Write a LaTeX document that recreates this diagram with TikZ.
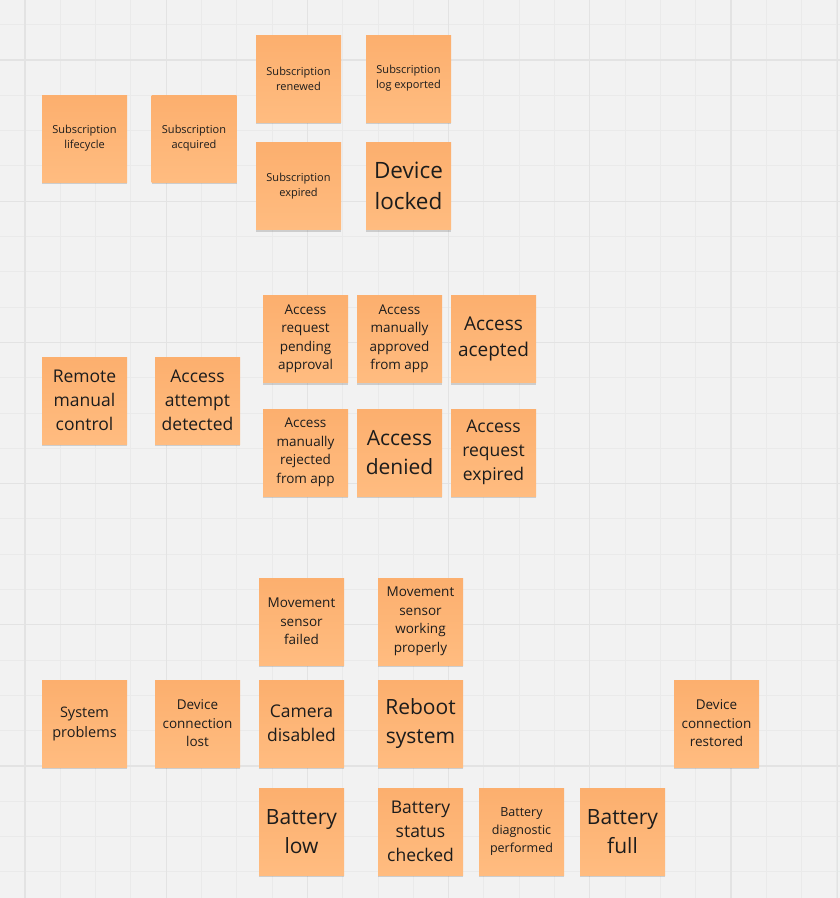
\documentclass[tikz,border=0pt]{standalone}
\usepackage{fontspec}
\setmainfont{Open Sans}
\usetikzlibrary{shadows}
\definecolor{bg}{HTML}{F2F2F2}
\definecolor{gridminor}{HTML}{EAEAEA}
\definecolor{gridmajor}{HTML}{E3E3E3}
\definecolor{stickytop}{HTML}{FCAF6E}
\definecolor{stickybot}{HTML}{FFBC80}
\definecolor{ink}{HTML}{1C1C1C}
\tikzset{
  sticky/.style={rectangle, minimum width=85pt, minimum height=87pt, inner sep=0pt,
    top color=stickytop, bottom color=stickybot, draw=none, text=ink, align=center,
    drop shadow={shadow xshift=0pt, shadow yshift=-2pt, opacity=0.15, fill=black}},
  fsA/.style={font=\fontsize{11}{15}\selectfont},
  fsB/.style={font=\fontsize{13.5}{18.5}\selectfont},
  fsC/.style={font=\fontsize{14.5}{20}\selectfont},
  fsD/.style={font=\fontsize{17.5}{24.2}\selectfont},
  fsE/.style={font=\fontsize{19}{26}\selectfont},
  fsF/.style={font=\fontsize{21}{29}\selectfont},
  fsG/.style={font=\fontsize{22.5}{31}\selectfont},
  fsH/.style={font=\fontsize{12.5}{18}\selectfont},
}
\begin{document}
\begin{tikzpicture}[x=1pt,y=-1pt]
\useasboundingbox (0,0) rectangle (840,898);
\fill[bg] (0,0) rectangle (840,898);
% minor grid
\foreach \i in {-1,...,24} {
  \draw[gridminor, line width=1pt] ({25+35.3*\i},0) -- ({25+35.3*\i},898);
}
\foreach \j in {-2,...,25} {
  \draw[gridminor, line width=1pt] (0,{60+35.3*\j}) -- (840,{60+35.3*\j});
}
% major grid
\foreach \i in {0,...,5} {
  \draw[gridmajor, line width=1.3pt] ({25+141.2*\i},0) -- ({25+141.2*\i},898);
}
\draw[gridmajor, line width=1.3pt] (837.5,0) -- (837.5,898);
\foreach \j in {0,...,6} {
  \draw[gridmajor, line width=1.3pt] (0,{60+141.2*\j}) -- (840,{60+141.2*\j});
}
% subscription group
\node[sticky,fsA] (n1) at (84.5,138.5) {Subscription\\lifecycle};
\node[sticky,fsA] (n2) at (194,138.5) {Subscription\\acquired};
\node[sticky,fsA] (n3) at (298.5,78.5) {Subscription\\renewed};
\node[sticky,fsA] (n4) at (408.5,78.5) {Subscription\\log exported};
\node[sticky,fsA] (n5) at (298.5,186) {Subscription\\expired};
\node[sticky,fsG] (n6) at (408.5,186) {Device\\locked};
% access group
\node[sticky,fsD] (n7) at (84.5,400.5) {Remote\\manual\\control};
\node[sticky,fsD] (n8) at (197.5,400.5) {Access\\attempt\\detected};
\node[sticky,fsB] (n9) at (305.5,339) {Access\\request\\pending\\approval};
\node[sticky,fsB] (n10) at (399.5,339) {Access\\manually\\approved\\from app};
\node[sticky,fsE] (n11) at (493.5,339) {Access\\acepted};
\node[sticky,fsB] (n12) at (305.5,452.5) {Access\\manually\\rejected\\from app};
\node[sticky,fsF] (n13) at (399.5,452.5) {Access\\denied};
\node[sticky,fsD] (n14) at (493.5,452.5) {Access\\request\\expired};
% system group
\node[sticky,fsB] (n15) at (301.5,621.5) {Movement\\sensor\\failed};
\node[sticky,fsB] (n16) at (420.5,621.5) {Movement\\sensor\\working\\properly};
\node[sticky,fsC] (n17) at (84.5,723.5) {System\\problems};
\node[sticky,fsB] (n18) at (197.5,723.5) {Device\\connection\\lost};
\node[sticky,fsD] (n19) at (301.5,723.5) {Camera\\disabled};
\node[sticky,fsF] (n20) at (420.5,723.5) {Reboot\\system};
\node[sticky,fsB] (n21) at (716.5,723.5) {Device\\connection\\restored};
\node[sticky,fsF] (n22) at (301.5,831.5) {Battery\\low};
\node[sticky,fsD] (n23) at (420.5,831.5) {Battery\\status\\checked};
\node[sticky,fsH] (n24) at (521.5,831.5) {Battery\\diagnostic\\performed};
\node[sticky,fsF] (n25) at (622.5,831.5) {Battery\\full};
\end{tikzpicture}
\end{document}
